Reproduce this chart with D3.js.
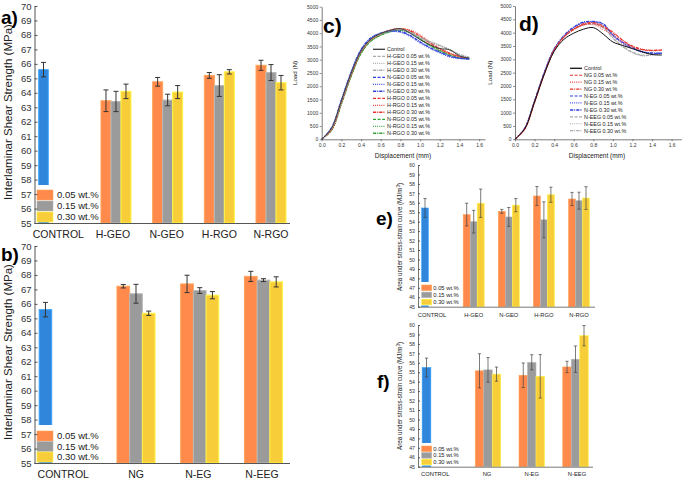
<!DOCTYPE html>
<html><head><meta charset="utf-8">
<script src="https://cdn.jsdelivr.net/npm/d3@7"></script>
<style>body{margin:0;background:#fff} svg text{font-family:"Liberation Sans",Arial,Helvetica,sans-serif}</style>
</head><body>
<svg id="chart" width="685" height="480"></svg>
<script>
// ---------------- DATA ----------------
const concLabels = ["0.05 wt.%", "0.15 wt.%", "0.30 wt.%"];

// a) ILSS – oxide-type fillers
const catsA = ["CONTROL", "H-GEO", "N-GEO", "H-RGO", "N-RGO"];
const ctrlA = [65.6, 0.5];
const meansA = [[63.45, 63.4, 64.1], [64.76, 63.5, 64.05], [65.2, 64.5, 65.45], [65.9, 65.4, 64.7]];
const errsA  = [[0.75, 0.7, 0.5], [0.3, 0.4, 0.45], [0.2, 0.75, 0.15], [0.35, 0.55, 0.5]];

// b) ILSS – graphite-type fillers
const catsB = ["CONTROL", "NG", "N-EG", "N-EEG"];
const ctrlB = [65.6, 0.5];
const meansB = [[67.22, 66.7, 65.35], [67.38, 66.92, 66.6], [67.9, 67.64, 67.52]];
const errsB  = [[0.12, 0.65, 0.15], [0.6, 0.2, 0.25], [0.35, 0.1, 0.35]];

// e) Area under stress-strain curve – oxide-type fillers
const catsE = ["CONTROL", "H-GEO", "N-GEO", "H-RGO", "N-RGO"];
const ctrlE = [55.45, 1.0];
const meansE = [[54.75, 54.0, 55.95], [55.1, 54.5, 55.75], [56.72, 54.2, 56.85], [56.4, 56.22, 56.5]];
const errsE  = [[1.2, 1.2, 1.5], [0.2, 1.0, 0.7], [1.0, 1.9, 0.8], [0.7, 0.9, 1.2]];

// f) Area under stress-strain curve – graphite-type fillers
const catsF = ["CONTROL", "NG", "N-EG", "N-EEG"];
const ctrlF = [55.5, 1.0];
const meansF = [[55.15, 55.25, 54.8], [54.68, 56.05, 54.57], [55.56, 56.38, 58.87]];
const errsF  = [[1.8, 1.3, 0.75], [1.3, 0.8, 2.3], [0.6, 1.4, 1.07]];

// c) / d) Load–displacement curves
const displacement = [0, 0.1, 0.2, 0.3, 0.4, 0.5, 0.6, 0.7, 0.8, 0.9, 1.0, 1.1, 1.2, 1.3, 1.4, 1.5];
const curveNamesC = ["Control", "H-GEO 0.05 wt.%", "H-GEO 0.15 wt.%", "H-GEO 0.30 wt.%",
  "N-GEO 0.05 wt.%", "N-GEO 0.15 wt.%", "N-GEO 0.30 wt.%",
  "H-RGO 0.05 wt.%", "H-RGO 0.15 wt.%", "H-RGO 0.30 wt.%",
  "N-RGO 0.05 wt.%", "N-RGO 0.15 wt.%", "N-RGO 0.30 wt.%"];
const loadsC = [
  [0, 420, 1450, 2500, 3330, 3780, 3990, 4110, 4170, 4000, 3760, 3560, 3420, 3380, 3150, 3060],
  [0, 400, 1420, 2480, 3320, 3770, 3980, 4100, 4150, 4020, 3820, 3650, 3520, 3350, 3180, 3080],
  [0, 380, 1400, 2460, 3300, 3760, 3970, 4090, 4130, 4030, 3860, 3700, 3560, 3400, 3220, 3100],
  [0, 410, 1430, 2490, 3320, 3770, 3990, 4110, 4160, 4040, 3840, 3680, 3540, 3380, 3200, 3090],
  [0, 430, 1480, 2540, 3380, 3820, 4000, 4080, 4050, 3900, 3660, 3450, 3280, 3130, 3050, 3030],
  [0, 420, 1470, 2530, 3370, 3810, 3990, 4060, 4030, 3870, 3620, 3420, 3250, 3100, 3040, 3020],
  [0, 440, 1490, 2550, 3390, 3830, 4010, 4090, 4070, 3920, 3680, 3460, 3290, 3140, 3060, 3040],
  [0, 360, 1380, 2440, 3290, 3750, 3970, 4120, 4180, 4100, 3900, 3650, 3420, 3250, 3120, 3060],
  [0, 340, 1350, 2410, 3270, 3740, 3960, 4110, 4170, 4120, 3950, 3680, 3450, 3270, 3130, 3070],
  [0, 370, 1390, 2450, 3300, 3760, 3980, 4130, 4160, 4080, 3880, 3620, 3400, 3230, 3110, 3050],
  [0, 330, 1320, 2380, 3230, 3700, 3920, 4060, 4120, 4040, 3800, 3560, 3360, 3200, 3090, 3040],
  [0, 320, 1300, 2360, 3210, 3690, 3910, 4050, 4100, 4010, 3780, 3520, 3320, 3170, 3060, 3020],
  [0, 350, 1340, 2400, 3250, 3710, 3930, 4070, 4110, 4020, 3790, 3540, 3340, 3180, 3070, 3030]
];
const curveNamesD = ["Control", "NG 0.05 wt.%", "NG 0.15 wt.%", "NG 0.30 wt.%",
  "N-EG 0.05 wt.%", "N-EG 0.15 wt.%", "N-EG 0.30 wt.%",
  "N-EEG 0.05 wt.%", "N-EEG 0.15 wt.%", "N-EEG 0.30 wt.%"];
const loadsD = [
  [0, 400, 1400, 2450, 3300, 3750, 3980, 4130, 4190, 3950, 3650, 3520, 3400, 3280, 3180, 3160],
  [0, 380, 1380, 2450, 3330, 3830, 4120, 4300, 4350, 4200, 3980, 3700, 3480, 3360, 3330, 3340],
  [0, 370, 1370, 2440, 3320, 3820, 4100, 4280, 4300, 4120, 3900, 3620, 3450, 3350, 3320, 3330],
  [0, 390, 1400, 2470, 3350, 3850, 4150, 4330, 4380, 4250, 4020, 3720, 3500, 3380, 3340, 3360],
  [0, 410, 1430, 2500, 3380, 3880, 4200, 4380, 4400, 4320, 3900, 3620, 3420, 3280, 3230, 3220],
  [0, 400, 1420, 2490, 3370, 3870, 4180, 4350, 4380, 4280, 3870, 3580, 3400, 3260, 3210, 3200],
  [0, 420, 1440, 2510, 3390, 3890, 4210, 4400, 4420, 4340, 3920, 3640, 3440, 3290, 3240, 3230],
  [0, 430, 1460, 2520, 3380, 3850, 4130, 4300, 4330, 4220, 3820, 3500, 3280, 3160, 3180, 3240],
  [0, 440, 1470, 2530, 3390, 3860, 4140, 4310, 4340, 4200, 3800, 3460, 3240, 3130, 3160, 3220],
  [0, 420, 1450, 2510, 3370, 3840, 4120, 4290, 4320, 4190, 3790, 3480, 3260, 3140, 3170, 3250]
];
const loadTicks = [0, 500, 1000, 1500, 2000, 2500, 3000, 3500, 4000, 4500, 5000];
const dispTicks = [0, 0.2, 0.4, 0.6, 0.8, 1.0, 1.2, 1.4, 1.6];

// ---------------- STYLE ----------------
const barColors = ["#ff8a4c", "#9b9b9b", "#f7cd3a"];
const ctrlColor = "#2f86da";
const lineGray = "#a8a8a8", lineBlue = "#2f3fe0", lineRed = "#e8302a", lineGreen = "#35a035";
const dashes = [null, "3,1.6", "0.9,1.2", "3.2,1,1,1"];
const stylesC = [
  {c: "#3a3a3a", d: null, w: 1},
  {c: lineGray, d: dashes[1], w: 0.9}, {c: lineGray, d: dashes[2], w: 0.9}, {c: lineGray, d: dashes[3], w: 1.1},
  {c: lineBlue, d: dashes[1], w: 0.9}, {c: lineBlue, d: dashes[2], w: 0.9}, {c: lineBlue, d: dashes[3], w: 1.2},
  {c: lineRed, d: dashes[1], w: 0.9}, {c: lineRed, d: dashes[2], w: 0.9}, {c: lineRed, d: dashes[3], w: 1.1},
  {c: lineGreen, d: dashes[1], w: 0.9}, {c: lineGreen, d: dashes[2], w: 0.9}, {c: lineGreen, d: dashes[3], w: 1.1}
];
const stylesD = [
  {c: "#111", d: null, w: 1},
  {c: lineRed, d: dashes[1], w: 0.9}, {c: lineRed, d: dashes[2], w: 0.9}, {c: lineRed, d: dashes[3], w: 1.1},
  {c: lineBlue, d: dashes[1], w: 0.9}, {c: lineBlue, d: dashes[2], w: 0.9}, {c: lineBlue, d: dashes[3], w: 1.2},
  {c: lineGray, d: dashes[1], w: 0.9}, {c: lineGray, d: dashes[2], w: 0.9}, {c: lineGray, d: dashes[3], w: 1.1}
];

const svg = d3.select("#chart");
svg.append("rect").attr("width", 685).attr("height", 480).attr("fill", "#fff");

// ---------------- BAR PANELS ----------------
function barPanel(o) {
  const g = svg.append("g");
  const y = d3.scaleLinear().domain(o.yDomain).range([o.yBottom, o.yTop]);
  const x = d3.scalePoint().domain(o.cats).range(o.xRange);
  const base = y(o.yDomain[0]);

  function bar(cx, w, v, e, col) {
    g.append("rect").attr("x", cx - w / 2).attr("y", y(v)).attr("width", w).attr("height", base - y(v))
      .attr("fill", col).attr("stroke", d3.color(col).brighter(0.5)).attr("stroke-width", o.barStroke);
    g.append("line").attr("x1", cx).attr("x2", cx).attr("y1", y(v + e)).attr("y2", y(v - e))
      .attr("stroke", o.errColor).attr("stroke-width", o.errW);
    [v + e, v - e].forEach(t => g.append("line").attr("x1", cx - o.cap).attr("x2", cx + o.cap)
      .attr("y1", y(t)).attr("y2", y(t)).attr("stroke", o.errColor).attr("stroke-width", o.errW));
  }
  // control
  bar(x(o.cats[0]) + o.ctrlDx, o.ctrlW, o.ctrl[0], o.ctrl[1], ctrlColor);
  // groups
  o.cats.slice(1).forEach((c, i) => {
    o.means[i].forEach((v, j) => bar(x(c) + (j - 1) * o.barW, o.barW, v, o.errs[i][j], barColors[j]));
  });
  // legend
  g.append("rect").attr("x", o.axX + 1).attr("y", o.legBgTop).attr("width", o.legBgW)
    .attr("height", base - 1.2 - o.legBgTop).attr("fill", "#fff");
  concLabels.forEach((t, j) => {
    const ry = o.legY + j * o.legStep;
    g.append("rect").attr("x", o.legX).attr("y", ry).attr("width", o.legBoxW).attr("height", o.legBoxH)
      .attr("fill", barColors[j]).attr("stroke", d3.color(barColors[j]).brighter(0.5)).attr("stroke-width", 0.6);
    g.append("text").attr("x", o.legX + o.legBoxW + o.legGap).attr("y", ry + o.legBoxH / 2).attr("dy", "0.36em")
      .attr("font-size", o.legFont).attr("fill", "#222").text(t);
  });
  // y axis
  const ya = d3.axisLeft(y).tickValues(d3.range(o.yDomain[0], o.yDomain[1] + 1, 1))
    .tickSizeInner(-o.tickLen).tickSizeOuter(0).tickPadding(o.tickPad).tickFormat(d3.format("d"));
  const ag = g.append("g").attr("transform", `translate(${o.axX},0)`).call(ya);
  ag.selectAll("text").attr("font-size", o.tickFont).attr("fill", "#333").attr("font-family", null);
  ag.selectAll("line").attr("stroke", "#555");
  ag.select(".domain").attr("stroke", "#555").attr("stroke-width", o.axW);
  // x axis line
  g.append("line").attr("x1", o.axX).attr("x2", o.xEnd).attr("y1", base + 0.5).attr("y2", base + 0.5)
    .attr("stroke", "#555").attr("stroke-width", o.axW);
  // category labels
  o.cats.forEach((c, i) => {
    g.append("text").attr("x", x(c) + (i === 0 ? o.ctrlLabelDx : o.labelDx[i - 1]))
      .attr("y", o.catY).attr("text-anchor", "middle").attr("font-size", o.catFont).attr("fill", "#222").text(c);
  });
  // y label
  const yl = g.append("text").attr("transform", `translate(${o.ylX},${o.ylY}) rotate(-90)`)
    .attr("text-anchor", "middle").attr("font-size", o.ylFont).attr("fill", "#222");
  if (o.ylSup) {
    yl.text(o.ylText);
    yl.append("tspan").attr("font-size", o.ylFont * 0.7).attr("dy", -o.ylFont * 0.35).text(o.ylSup);
    yl.append("tspan").attr("dy", o.ylFont * 0.35).text(")");
  } else yl.text(o.ylText);
  // tag
  g.append("text").attr("x", o.tagX).attr("y", o.tagY).attr("font-size", o.tagFont)
    .attr("font-weight", "bold").attr("fill", "#000").text(o.tag);
}

barPanel({cats: catsA, ctrl: ctrlA, means: meansA, errs: errsA, yDomain: [55, 70], yBottom: 223, yTop: 6,
  xRange: [64.3, 271], ctrlDx: -20.8, ctrlW: 9.5, barW: 10, ctrlLabelDx: -6, labelDx: [-3, -1, 0, 0],
  barStroke: 1, errColor: "#333", errW: 1, cap: 2.5,
  axX: 34.5, xEnd: 290, axW: 1, tickLen: 3, tickPad: 3, tickFont: 9.5, catFont: 10.5, catY: 238,
  legBgTop: 185, legBgW: 64, legX: 37, legY: 190, legStep: 11, legBoxW: 16, legBoxH: 10, legGap: 4, legFont: 9.5,
  ylX: 12, ylY: 112, ylFont: 11.5, ylText: "Interlaminar Shear Strength (MPa)",
  tag: "a)", tagX: 1, tagY: 24, tagFont: 19});

barPanel({cats: catsB, ctrl: ctrlB, means: meansB, errs: errsB, yDomain: [55, 70], yBottom: 463, yTop: 246,
  xRange: [72.25, 263.5], ctrlDx: -26.8, ctrlW: 12.5, barW: 12.7, ctrlLabelDx: -9, labelDx: [0, -1.5, -1.5],
  barStroke: 1, errColor: "#333", errW: 1, cap: 2.5,
  axX: 34.5, xEnd: 290, axW: 1, tickLen: 3, tickPad: 3, tickFont: 9.5, catFont: 10.5, catY: 478,
  legBgTop: 425, legBgW: 64, legX: 37, legY: 431, legStep: 10.5, legBoxW: 16, legBoxH: 10, legGap: 4, legFont: 9.5,
  ylX: 12, ylY: 352, ylFont: 11.5, ylText: "Interlaminar Shear Strength (MPa)",
  tag: "b)", tagX: 1, tagY: 261, tagFont: 19});

barPanel({cats: catsE, ctrl: ctrlE, means: meansE, errs: errsE, yDomain: [45, 60], yBottom: 306.7, yTop: 165,
  xRange: [438.6, 579], ctrlDx: -13.6, ctrlW: 6.7, barW: 7, ctrlLabelDx: -6.6, labelDx: [0, 0, 0, 0],
  barStroke: 0.6, errColor: "#444", errW: 0.7, cap: 1.6,
  axX: 418, xEnd: 595, axW: 0.8, tickLen: 2, tickPad: 3, tickFont: 5.2, catFont: 5.8, catY: 317,
  legBgTop: 282, legBgW: 40, legX: 421.7, legY: 285, legStep: 7.1, legBoxW: 10, legBoxH: 5.6, legGap: 1.6, legFont: 5.8,
  ylX: 402, ylY: 237, ylFont: 6.3, ylText: "Area under stress-strain curve (MJ/m", ylSup: "3",
  tag: "e)", tagX: 376, tagY: 225, tagFont: 19});

barPanel({cats: catsF, ctrl: ctrlF, means: meansF, errs: errsF, yDomain: [45, 60], yBottom: 466.7, yTop: 325,
  xRange: [444.25, 575.5], ctrlDx: -17.75, ctrlW: 8.7, barW: 8.5, ctrlLabelDx: -9, labelDx: [-1, 0, 1.5],
  barStroke: 0.6, errColor: "#444", errW: 0.7, cap: 1.6,
  axX: 418, xEnd: 593, axW: 0.8, tickLen: 2, tickPad: 3, tickFont: 5.2, catFont: 5.8, catY: 476,
  legBgTop: 443, legBgW: 40, legX: 421.7, legY: 446, legStep: 6.6, legBoxW: 10, legBoxH: 5.6, legGap: 1.6, legFont: 5.8,
  ylX: 402, ylY: 396, ylFont: 6.3, ylText: "Area under stress-strain curve (MJ/m", ylSup: "3",
  tag: "f)", tagX: 377, tagY: 388, tagFont: 19});

// ---------------- CURVE PANELS ----------------
function curvePanel(o) {
  const g = svg.append("g");
  const x = d3.scaleLinear().domain(o.xDomain).range([o.x0, o.x1]);
  const y = d3.scaleLinear().domain([0, 5000]).range([o.y0, o.y1]);
  const line = d3.line().x((d, i) => x(displacement[i])).y(d => y(d)).curve(d3.curveCatmullRom.alpha(0.5));
  o.loads.map((l, i) => i).reverse().forEach(i => {
    const s = o.styles[i];
    g.append("path").attr("d", line(o.loads[i])).attr("fill", "none").attr("stroke", s.c)
      .attr("stroke-width", s.w).attr("stroke-dasharray", s.d);
  });
  const ya = d3.axisLeft(y).tickValues(loadTicks).tickSizeInner(2).tickSizeOuter(0).tickPadding(1.5).tickFormat(d3.format("d"));
  const ag = g.append("g").attr("transform", `translate(${o.x0},0)`).call(ya);
  ag.selectAll("text").attr("font-size", 5).attr("fill", "#333").attr("font-family", null);
  const xa = d3.axisBottom(x).tickValues(dispTicks).tickSizeInner(2).tickSizeOuter(0).tickPadding(2.5).tickFormat(d3.format(".1f"));
  const bg = g.append("g").attr("transform", `translate(0,${o.y0})`).call(xa);
  bg.selectAll("text").attr("font-size", 5).attr("fill", "#333").attr("font-family", null);
  [ag, bg].forEach(a => { a.selectAll("line").attr("stroke", "#444").attr("stroke-width", 0.6); a.select(".domain").attr("stroke", "#444").attr("stroke-width", 0.7); });
  g.append("text").attr("x", o.xlX).attr("y", 158).attr("text-anchor", "middle").attr("font-size", 6.5).attr("fill", "#222").text("Displacement (mm)");
  g.append("text").attr("transform", `translate(${o.ylX},${(o.y0 + o.y1) / 2}) rotate(-90)`).attr("text-anchor", "middle")
    .attr("font-size", 6.2).attr("fill", "#222").text("Load (N)");
  o.names.forEach((n, i) => {
    const ry = o.legY + i * o.legStep, s = o.styles[i];
    g.append("line").attr("x1", o.legX).attr("x2", o.legX + 12).attr("y1", ry).attr("y2", ry)
      .attr("stroke", s.c).attr("stroke-width", s.w + 0.3).attr("stroke-dasharray", s.d);
    g.append("text").attr("x", o.legX + 14).attr("y", ry).attr("dy", "0.35em").attr("font-size", 5.4).attr("fill", "#222").text(n);
  });
  g.append("text").attr("x", o.tagX).attr("y", o.tagY).attr("font-size", 21).attr("font-weight", "bold").attr("fill", "#000").text(o.tag);
}

curvePanel({loads: loadsC, names: curveNamesC, styles: stylesC, xDomain: [0, 1.66], x0: 321.7, x1: 485, y0: 139.3, y1: 6.7,
  xlX: 403, ylX: 297, legX: 373, legY: 49.3, legStep: 7, tag: "c)", tagX: 323, tagY: 33});
curvePanel({loads: loadsD, names: curveNamesD, styles: stylesD, xDomain: [0, 1.7], x0: 515, x1: 681.4, y0: 139.3, y1: 6,
  xlX: 597, ylX: 492, legX: 570, legY: 68.3, legStep: 6.93, tag: "d)", tagX: 519, tagY: 31});
</script>
</body></html>
